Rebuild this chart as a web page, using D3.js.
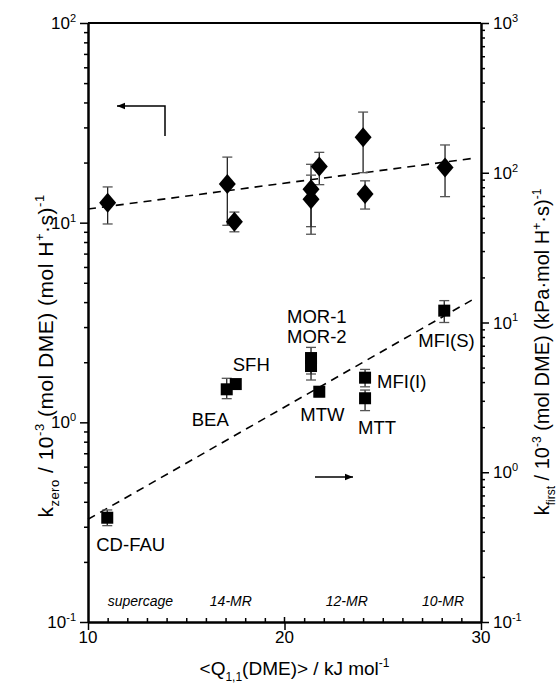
<!DOCTYPE html>
<html lang="en">
<head>
    <meta charset="UTF-8">
    <title>kzero / kfirst vs Q</title>
    <style>
        body { margin: 0; background: #fff; }
        text { font-family: "Liberation Sans", Arial, sans-serif; fill: #000; }
    </style>
</head>
<body>
<div id="content"></div>

<script src="https://d3js.org/d3.v7.min.js"></script>
<script>

    // zero-order rate constants (diamonds, left axis)
    var zeroQ  = [11.0, 17.09, 17.45, 21.35, 21.35, 21.77, 24.0, 24.1, 28.17];
    var zeroK  = [12.6, 15.6, 10.1, 14.7, 13.1, 19.1, 26.8, 13.9, 18.9];
    var zeroLo = [9.85, 9.7, 9.0, 9.55, 8.75, 15.5, 17.8, 11.7, 13.5];
    var zeroHi = [15.1, 21.3, 11.3, 19.6, 17.3, 22.5, 35.8, 16.2, 24.5];

    // first-order rate constants (squares, right axis)
    var firstNames = ["CD-FAU", "BEA", "SFH", "MOR-1", "MOR-2", "MTW", "MFI(I)", "MTT", "MFI(S)"];
    var firstQ  = [10.98, 17.06, 17.52, 21.35, 21.35, 21.77, 24.1, 24.1, 28.13];
    var firstK  = [0.497, 3.58, 3.88, 5.79, 5.12, 3.45, 4.28, 3.12, 12.0];
    var firstLo = [0.44, 3.1, 3.6, 4.53, 4.13, 3.2, 3.72, 2.58, 10.0];
    var firstHi = [0.56, 4.24, 4.1, 6.82, 5.9, 3.7, 4.86, 3.54, 14.0];

    // dashed trend lines (end points)
    var zeroFit  = [{q: 10, k: 11.7}, {q: 29.6, k: 21.0}];
    var firstFit = [{q: 10, k: 0.485}, {q: 29.53, k: 14.1}];

    // pore type labels along the bottom
    var ringNames = ["supercage", "14-MR", "12-MR", "10-MR"];
    var ringQ     = [11.0, 16.2, 22.1, 27.0];

    var xTicks = [10, 20, 30];
    var leftExp = [-1, 0, 1, 2];
    var rightExp = [-1, 0, 1, 2, 3];

    // label offsets for the squares (layout only)
    var labelOffset = {
        "CD-FAU": [-11, 33], "BEA": [-35, 37], "SFH": [-3, -13],
        "MOR-1": [-24, -35], "MOR-2": [-24, -23], "MTW": [-19, 29],
        "MFI(I)": [12, 10], "MTT": [-7, 36], "MFI(S)": [-26, 36]
    };

    var width = 557, height = 684;
    var margin = {left: 88, right: 76, top: 23, bottom: 62};

    var svg = d3.select("#content").append("svg")
        .attr("width", width)
        .attr("height", height);

    var x = d3.scaleLinear().domain([10, 30]).range([margin.left, width - margin.right]);
    var yL = d3.scaleLog().domain([0.1, 100]).range([height - margin.bottom, margin.top]);
    var yR = d3.scaleLog().domain([0.1, 1000]).range([height - margin.bottom, margin.top]);

    var x0 = x.range()[0], x1 = x.range()[1], y0 = yL.range()[0], y1 = yL.range()[1];

    // text with sub / superscripts
    function richText(sel, parts, size) {
        var shift = 0;
        parts.forEach(function (p) {
            var target = p.sup ? -0.42 * size : (p.sub ? 0.3 * size : 0);
            var ts = sel.append("tspan").attr("dy", target - shift).text(p.t);
            if (p.sup || p.sub) ts.attr("font-size", Math.round(size * 0.62));
            shift = target;
        });
    }

    function minorTicks(exps) {
        var out = [];
        exps.slice(0, -1).forEach(function (e) {
            for (var m = 2; m <= 9; m++) out.push(m * Math.pow(10, e));
        });
        return out;
    }

    //axes
    function styleAxis(g) {
        g.select(".domain").attr("stroke-width", 2);
        g.selectAll(".tick line").attr("stroke-width", 1.5);
    }

    svg.append("g").attr("transform", "translate(" + x0 + ",0)")
        .call(d3.axisLeft(yL).tickValues(leftExp.map(function (e) { return Math.pow(10, e); }))
            .tickSize(8).tickSizeOuter(0).tickFormat(""))
        .call(styleAxis);
    svg.append("g").attr("transform", "translate(" + x0 + ",0)")
        .call(d3.axisLeft(yL).tickValues(minorTicks(leftExp)).tickSize(4).tickSizeOuter(0).tickFormat(""))
        .call(styleAxis);

    svg.append("g").attr("transform", "translate(" + x1 + ",0)")
        .call(d3.axisRight(yR).tickValues(rightExp.map(function (e) { return Math.pow(10, e); }))
            .tickSize(8).tickSizeOuter(0).tickFormat(""))
        .call(styleAxis);
    svg.append("g").attr("transform", "translate(" + x1 + ",0)")
        .call(d3.axisRight(yR).tickValues(minorTicks(rightExp)).tickSize(4).tickSizeOuter(0).tickFormat(""))
        .call(styleAxis);

    svg.append("g").attr("transform", "translate(0," + y0 + ")")
        .call(d3.axisBottom(x).tickValues(xTicks).tickSize(8).tickSizeOuter(0).tickFormat(""))
        .call(styleAxis);
    svg.append("g").attr("transform", "translate(0," + y0 + ")")
        .call(d3.axisBottom(x).tickValues(d3.range(11, 30).filter(function (v) { return v !== 20; }))
            .tickSize(-4).tickSizeOuter(0).tickFormat(""))
        .call(styleAxis);
    svg.append("line").attr("x1", x(20)).attr("x2", x(20)).attr("y1", y0 - 5).attr("y2", y0)
        .attr("stroke", "#000").attr("stroke-width", 1.5);

    svg.append("line").attr("x1", x0).attr("x2", x1).attr("y1", y1).attr("y2", y1)
        .attr("stroke", "#000").attr("stroke-width", 2);

    // tick labels
    leftExp.forEach(function (e) {
        var t = svg.append("text").attr("x", x0 - 12).attr("y", yL(Math.pow(10, e)) + 6)
            .attr("text-anchor", "end").attr("font-size", 17);
        richText(t, [{t: "10"}, {t: String(e), sup: true}], 17);
    });
    rightExp.forEach(function (e) {
        var t = svg.append("text").attr("x", x1 + 12).attr("y", yR(Math.pow(10, e)) + 6)
            .attr("text-anchor", "start").attr("font-size", 17);
        richText(t, [{t: "10"}, {t: String(e), sup: true}], 17);
    });
    xTicks.forEach(function (v) {
        svg.append("text").attr("x", x(v)).attr("y", y0 + 21)
            .attr("text-anchor", "middle").attr("font-size", 17).text(v);
    });

    // axis titles
    var tx = svg.append("text").attr("x", (x0 + x1) / 2 + 10).attr("y", 675)
        .attr("text-anchor", "middle").attr("font-size", 19);
    richText(tx, [{t: "<Q"}, {t: "1,1", sub: true}, {t: "(DME)> / kJ mol"}, {t: "-1", sup: true}], 19);

    var tyL = svg.append("text").attr("transform", "translate(53,356) rotate(-90)")
        .attr("text-anchor", "middle").attr("font-size", 21).attr("letter-spacing", 0.5);
    richText(tyL, [{t: "k"}, {t: "zero", sub: true}, {t: " / 10"}, {t: "-3", sup: true},
        {t: " (mol DME) (mol H"}, {t: "+", sup: true}, {t: "\u00b7s)"}, {t: "-1", sup: true}], 21);

    var tyR = svg.append("text").attr("transform", "translate(549,352) rotate(-90)")
        .attr("text-anchor", "middle").attr("font-size", 20);
    richText(tyR, [{t: "k"}, {t: "first", sub: true}, {t: " / 10"}, {t: "-3", sup: true},
        {t: " (mol DME) (kPa\u00b7mol H"}, {t: "+", sup: true}, {t: "\u00b7s)"}, {t: "-1", sup: true}], 20);

    // trend lines
    svg.append("path").datum(zeroFit)
        .attr("d", d3.line().x(function (d) { return x(d.q); }).y(function (d) { return yL(d.k); }))
        .attr("fill", "none").attr("stroke", "#000").attr("stroke-width", 1.6).attr("stroke-dasharray", "8,6");
    svg.append("path").datum(firstFit)
        .attr("d", d3.line().x(function (d) { return x(d.q); }).y(function (d) { return yR(d.k); }))
        .attr("fill", "none").attr("stroke", "#000").attr("stroke-width", 1.6).attr("stroke-dasharray", "8,6");

    // error bars
    function errorBars(qs, los, his, yScale) {
        var g = svg.append("g").attr("stroke", "#222").attr("stroke-width", 1.3);
        qs.forEach(function (q, i) {
            var cx = x(q);
            g.append("line").attr("x1", cx).attr("x2", cx).attr("y1", yScale(los[i])).attr("y2", yScale(his[i]));
            [los[i], his[i]].forEach(function (v) {
                g.append("line").attr("x1", cx - 5).attr("x2", cx + 5).attr("y1", yScale(v)).attr("y2", yScale(v))
                    .attr("stroke", "#555");
            });
        });
    }
    errorBars(zeroQ, zeroLo, zeroHi, yL);
    errorBars(firstQ, firstLo, firstHi, yR);

    // diamonds
    svg.selectAll(".diamond").data(zeroQ).enter().append("path")
        .attr("class", "diamond")
        .attr("d", "M0,-10L8.5,0L0,10L-8.5,0Z")
        .attr("transform", function (d, i) { return "translate(" + x(d) + "," + yL(zeroK[i]) + ")"; })
        .attr("fill", "#000");

    // squares
    svg.selectAll(".square").data(firstQ).enter().append("rect")
        .attr("class", "square")
        .attr("x", function (d) { return x(d) - 6; })
        .attr("y", function (d, i) { return yR(firstK[i]) - 6; })
        .attr("width", 12).attr("height", 12)
        .attr("fill", "#000");

    firstNames.forEach(function (n, i) {
        var off = labelOffset[n];
        svg.append("text").attr("x", x(firstQ[i]) + off[0]).attr("y", yR(firstK[i]) + off[1])
            .attr("font-size", 18.5).text(n);
    });

    ringNames.forEach(function (n, i) {
        svg.append("text").attr("x", x(ringQ[i])).attr("y", y0 - 16)
            .attr("font-size", 14).attr("font-style", "italic").text(n);
    });

    // axis arrows
    var defs = svg.append("defs");
    defs.append("marker").attr("id", "head").attr("viewBox", "0 0 10 10")
        .attr("refX", 10).attr("refY", 5).attr("markerWidth", 10).attr("markerHeight", 8)
        .attr("markerUnits", "userSpaceOnUse").attr("orient", "auto")
        .append("path").attr("d", "M0,1L10,5L0,9Z").attr("fill", "#000");

    svg.append("path").attr("d", "M165,136L165,106L117,106")
        .attr("fill", "none").attr("stroke", "#000").attr("stroke-width", 1.5)
        .attr("marker-end", "url(#head)");
    svg.append("path").attr("d", "M315,477L353,477")
        .attr("fill", "none").attr("stroke", "#000").attr("stroke-width", 1.5)
        .attr("marker-end", "url(#head)");

</script>
</body>
</html>
